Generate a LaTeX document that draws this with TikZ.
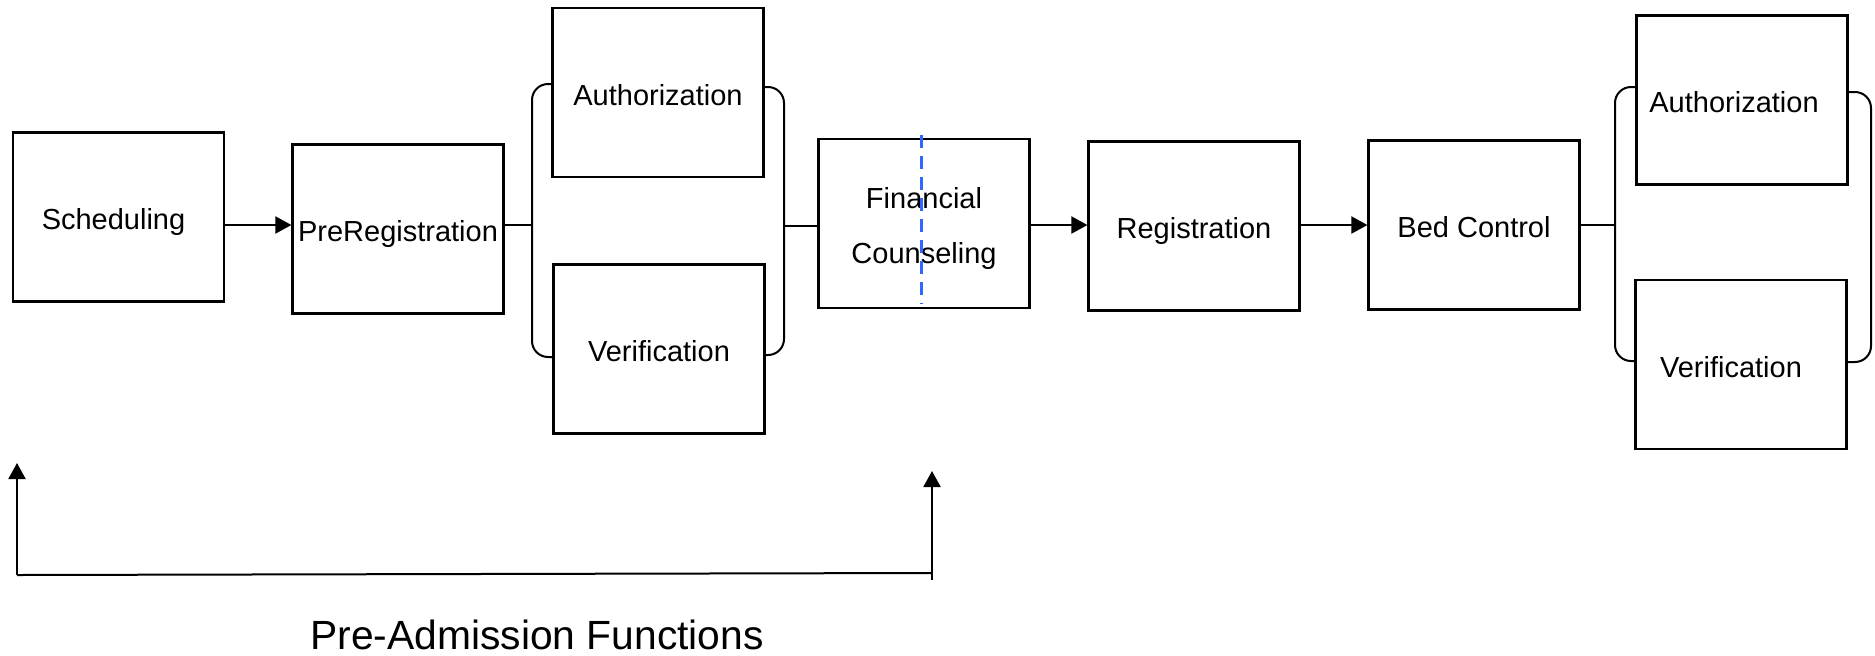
\documentclass[tikz,border=0pt]{standalone}
\usepackage{fontspec}
\setmainfont{Liberation Sans}
\usetikzlibrary{arrows.meta}

\definecolor{cutblue}{RGB}{51,102,255}
\tikzset{
    stepbox/.style={draw, line width=1.1pt, minimum width=105.5pt, minimum height=84.5pt,
        inner sep=0pt, align=center, text height=12.5pt, text depth=0pt,
        font=\fontsize{14.5}{27.5}\selectfont},
    flow/.style={line width=1pt, -{Triangle[length=8pt, width=8.5pt]}},
    link/.style={line width=1pt},
    bracket/.style={line width=1pt, rounded corners=8pt},
    cutline/.style={draw=cutblue, line width=1.2pt, dash pattern=on 6.5pt off 4pt}
}

\begin{document}
\begin{tikzpicture}[x=0.5pt, y=-0.5pt]
    \useasboundingbox (0,0) rectangle (1875,655);
%%%%%%%%%%%%%%%%%%%%%%%%%%%%%%%%%%%%%%%%%%
    \node[stepbox] (sched)   at (118.5,217) {Scheduling\hspace*{5pt}};
    \node[stepbox] (prereg)  at (398,229)   {PreRegistration};
    \node[stepbox] (auth1)   at (658,92.5)  {Authorization};
    \node[stepbox] (verif1)  at (659,349)   {Verification};
    \node[stepbox, text height=39.5pt] (fincoun) at (924,223.5) {Financial\\Counseling};
    \node[stepbox] (regist)  at (1194,226)  {Registration};
    \node[stepbox] (bedctl)  at (1474,225)  {Bed Control};
    \node[stepbox] (auth2)   at (1742,100)  {Authorization\hspace*{8pt}};
    \node[stepbox] (verif2)  at (1741,364.5) {Verification\hspace*{10pt}};

%%%%%%%%%%%%%%%%%%%%%%%%%%%%%%%%%%%%%%%%%%
    \draw[flow] (sched.east |- 0,225) -- (prereg.west |- 0,225);
    \draw[link] (prereg.east |- 0,225) -- (532,225);
    \draw[bracket] (auth1.west |- 0,84) -- (532,84) -- (532,357) -- (verif1.west |- 0,357);
    \draw[bracket] (auth1.east |- 0,87) -- (784,87) -- (784,355) -- (verif1.east |- 0,355);
    \draw[link] (784,226) -- (fincoun.west |- 0,226);
    \draw[flow] (fincoun.east |- 0,225) -- (regist.west |- 0,225);
    \draw[flow] (regist.east |- 0,225) -- (bedctl.west |- 0,225);
    \draw[link] (bedctl.east |- 0,225) -- (1615,225);
    \draw[bracket] (auth2.west |- 0,87) -- (1615,87) -- (1615,361) -- (verif2.west |- 0,361);
    \draw[bracket] (auth2.east |- 0,92) -- (1871,92) -- (1871,362) -- (verif2.east |- 0,362);
    \draw[cutline] (921.5,135) -- (921.5,304);

%%%%%%%%%%%%%%%%%%%%%%%%%%%%%%%%%%%%%%%%%%
    \coordinate (pa-start) at (17,575);
    \coordinate (pa-end) at (932,573);
    \draw[flow] (pa-start) -- (17,463);
    \draw[link] (pa-start) -- (pa-end);
    \draw[flow] (932,580) -- (932,471);
    \node[font=\fontsize{20.4}{24}\selectfont] (pa-label) at (537,635) {Pre-Admission Functions};
\end{tikzpicture}
\end{document}
